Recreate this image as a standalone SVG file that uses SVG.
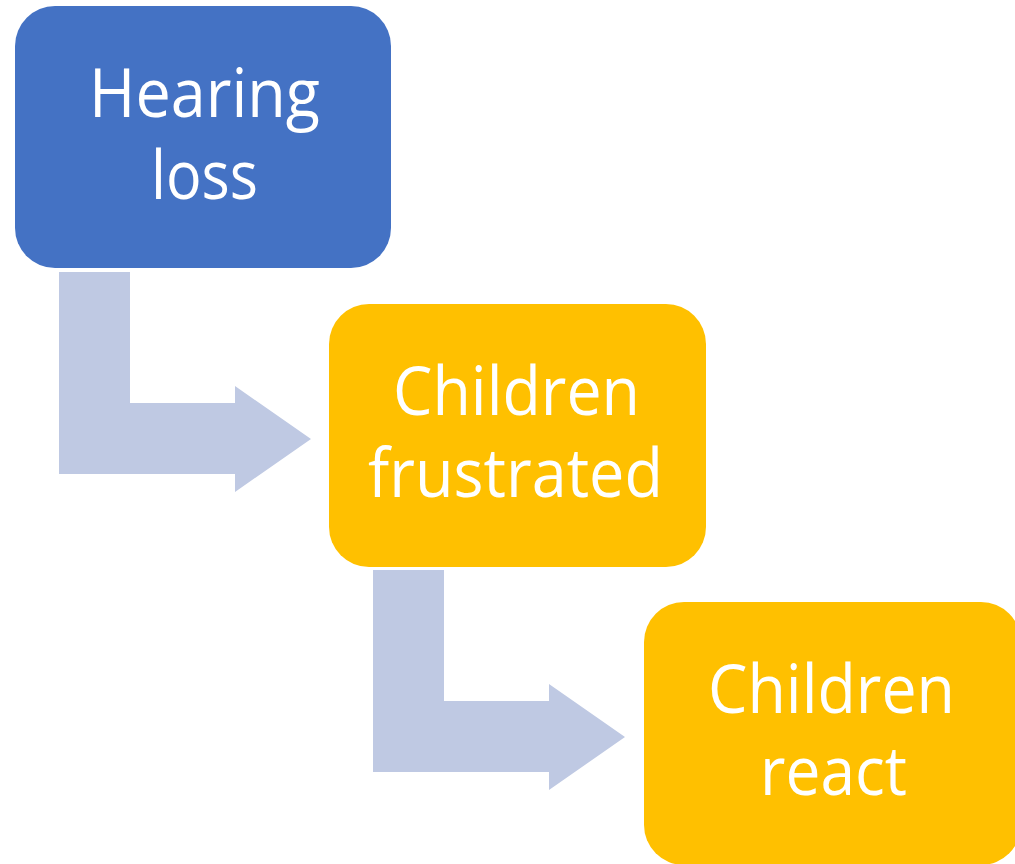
<svg xmlns="http://www.w3.org/2000/svg" width="1015" height="864" viewBox="0 0 1015 864">
<style>
.blue{fill:#4472C4}
.gold{fill:#FFC000}
.arr{fill:#BFC9E3}
.t{font-family:"Open Sans","Noto Sans","Liberation Sans",sans-serif;font-size:67px;fill:#FFFFFF;text-anchor:middle}
</style>
<rect width="1015" height="864" fill="#FFFFFF"/>
<g id="connectors">
<polygon class="arr" points="59,272 130,272 130,403 235,403 235,386 311,439 235,492 235,474 59,474"/>
<polygon class="arr" points="373,570 444,570 444,701 549,701 549,684 625,737 549,790 549,772 373,772"/>
</g>
<g id="node-hearing-loss">
<rect class="blue" x="15" y="6" width="376" height="262" rx="40" ry="40"/>
<text class="t" x="204.5" y="117" textLength="231" lengthAdjust="spacingAndGlyphs">Hearing</text>
<text class="t" x="204.5" y="199" textLength="107" lengthAdjust="spacingAndGlyphs">loss</text>
</g>
<g id="node-children-frustrated">
<rect class="gold" x="329" y="304" width="377" height="263" rx="40" ry="40"/>
<text class="t" x="516.5" y="415" textLength="247" lengthAdjust="spacingAndGlyphs">Children</text>
<text class="t" x="515.5" y="497" textLength="295" lengthAdjust="spacingAndGlyphs">frustrated</text>
</g>
<g id="node-children-react">
<rect class="gold" x="644" y="602" width="377" height="263" rx="40" ry="40"/>
<text class="t" x="831.5" y="713" textLength="247" lengthAdjust="spacingAndGlyphs">Children</text>
<text class="t" x="833.5" y="795" textLength="147" lengthAdjust="spacingAndGlyphs">react</text>
</g>
</svg>
